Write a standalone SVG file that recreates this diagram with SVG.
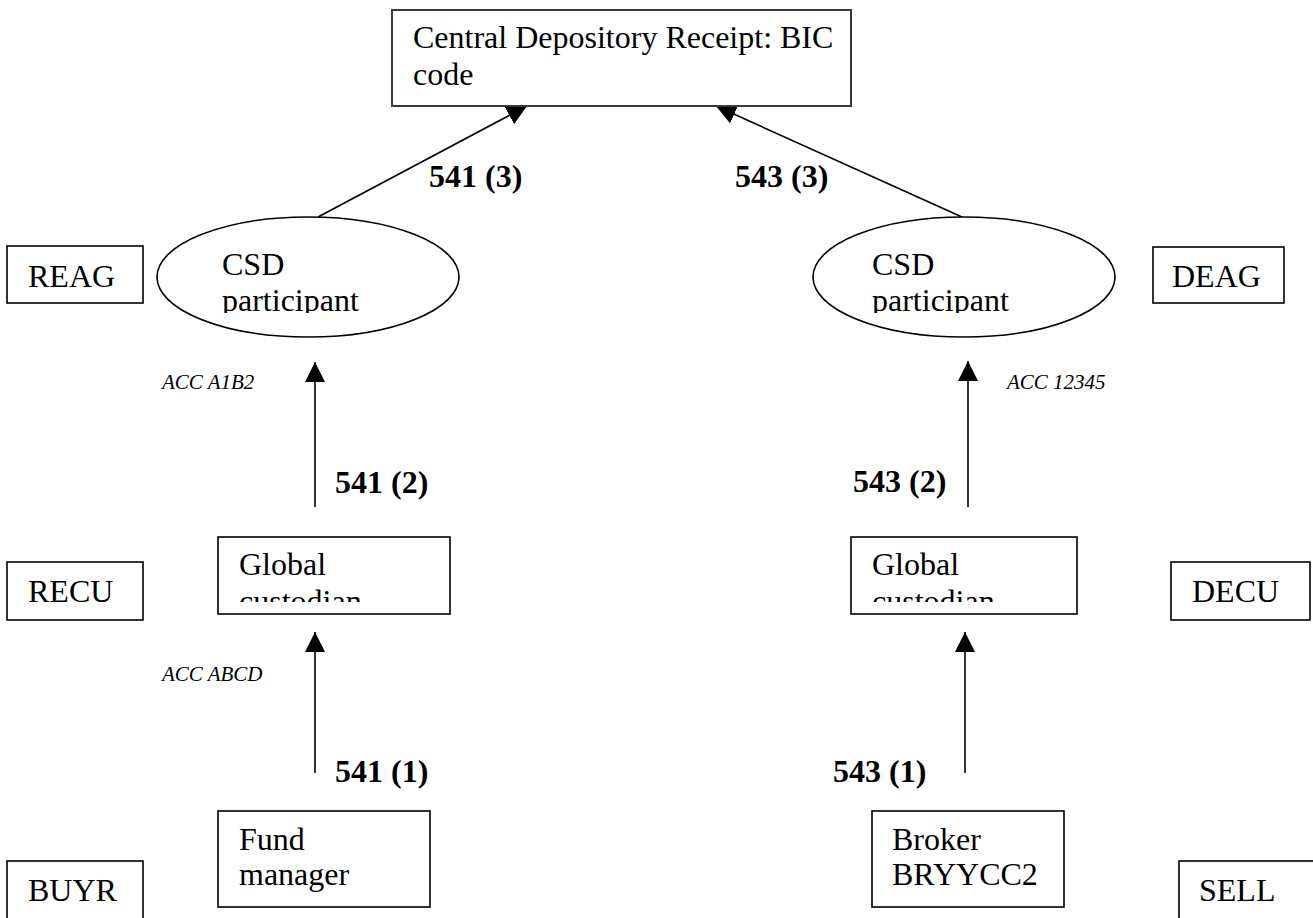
<svg xmlns="http://www.w3.org/2000/svg" width="1313" height="918" viewBox="0 0 1313 918">
<style>
.bx{fill:#fff;stroke:#000;stroke-width:1.6}
.bxg{fill:#fff;stroke:#3a3a3a;stroke-width:2}
.t{font-family:"Liberation Serif","Times New Roman",serif;font-size:32px;fill:#000}
.lb{font-family:"Liberation Serif","Times New Roman",serif;font-size:32px;font-weight:bold;fill:#000}
.acc{font-family:"Liberation Serif","Times New Roman",serif;font-size:21px;font-style:italic;fill:#000}
.ln{stroke:#000;stroke-width:1.6;fill:none;marker-end:url(#ah)}
</style>
<defs>
<marker id="ah" markerUnits="userSpaceOnUse" markerWidth="20" markerHeight="20" refX="20" refY="10" orient="auto" viewBox="0 0 20 20">
<path d="M0,0 L20,10 L0,20 z" fill="#000"/>
</marker>
<clipPath id="cL"><rect x="160" y="240" width="300" height="73"/></clipPath>
<clipPath id="cR"><rect x="815" y="240" width="300" height="73"/></clipPath>
<clipPath id="gL"><rect x="219" y="538" width="230" height="64"/></clipPath>
<clipPath id="gR"><rect x="852" y="538" width="224" height="64"/></clipPath>
</defs>
<g id="connectors">
<line class="ln" x1="318" y1="217" x2="527" y2="106"/>
<line class="ln" x1="962" y1="217" x2="716" y2="106"/>
<line class="ln" x1="315" y1="507" x2="315" y2="362"/>
<line class="ln" x1="968" y1="507" x2="968" y2="361"/>
<line class="ln" x1="315" y1="773" x2="315" y2="632"/>
<line class="ln" x1="965" y1="773" x2="965" y2="632"/>
<text class="lb" x="429" y="187">541 (3)</text>
<text class="lb" x="735" y="187">543 (3)</text>
<text class="lb" x="335" y="493">541 (2)</text>
<text class="lb" x="853" y="492">543 (2)</text>
<text class="lb" x="335" y="782">541 (1)</text>
<text class="lb" x="833" y="782">543 (1)</text>
<text class="acc" x="162" y="389">ACC A1B2</text>
<text class="acc" x="1007" y="389">ACC 12345</text>
<text class="acc" x="162" y="681">ACC ABCD</text>
</g>
<g id="cdr">
<rect class="bxg" x="392" y="10" width="459" height="96"/>
<text class="t" x="413" y="48">Central Depository Receipt: BIC</text>
<text class="t" x="413" y="85">code</text>
</g>
<g id="csd-left">
<ellipse class="bx" cx="308" cy="277" rx="151" ry="60"/>
<g clip-path="url(#cL)">
<text class="t" x="222" y="275">CSD</text>
<text class="t" x="222" y="311">participant</text>
</g>
</g>
<g id="csd-right">
<ellipse class="bx" cx="964" cy="277" rx="151" ry="60"/>
<g clip-path="url(#cR)">
<text class="t" x="872" y="275">CSD</text>
<text class="t" x="872" y="311">participant</text>
</g>
</g>
<g id="reag"><rect class="bx" x="7" y="246" width="136" height="57"/><text class="t" x="28" y="287">REAG</text></g>
<g id="deag"><rect class="bx" x="1153" y="247" width="131" height="56"/><text class="t" x="1172" y="287">DEAG</text></g>
<g id="gc-left">
<rect class="bx" x="218" y="537" width="232" height="77"/>
<g clip-path="url(#gL)">
<text class="t" x="239" y="575">Global</text>
<text class="t" x="239" y="612">custodian</text>
</g>
</g>
<g id="gc-right">
<rect class="bx" x="851" y="537" width="226" height="77"/>
<g clip-path="url(#gR)">
<text class="t" x="872" y="575">Global</text>
<text class="t" x="872" y="612">custodian</text>
</g>
</g>
<g id="recu"><rect class="bx" x="7" y="562" width="136" height="58"/><text class="t" x="28" y="602">RECU</text></g>
<g id="decu"><rect class="bx" x="1171" y="562" width="139" height="58"/><text class="t" x="1192" y="602">DECU</text></g>
<g id="fund"><rect class="bx" x="218" y="811" width="212" height="96"/><text class="t" x="239" y="850">Fund</text><text class="t" x="239" y="885">manager</text></g>
<g id="broker"><rect class="bx" x="872" y="811" width="192" height="96"/><text class="t" x="892" y="850">Broker</text><text class="t" x="892" y="885">BRYYCC2</text></g>
<g id="buyr"><rect class="bx" x="7" y="861" width="136" height="70"/><text class="t" x="28" y="901">BUYR</text></g>
<g id="sell"><rect class="bx" x="1179" y="861" width="140" height="70"/><text class="t" x="1199" y="901">SELL</text></g>
</svg>
